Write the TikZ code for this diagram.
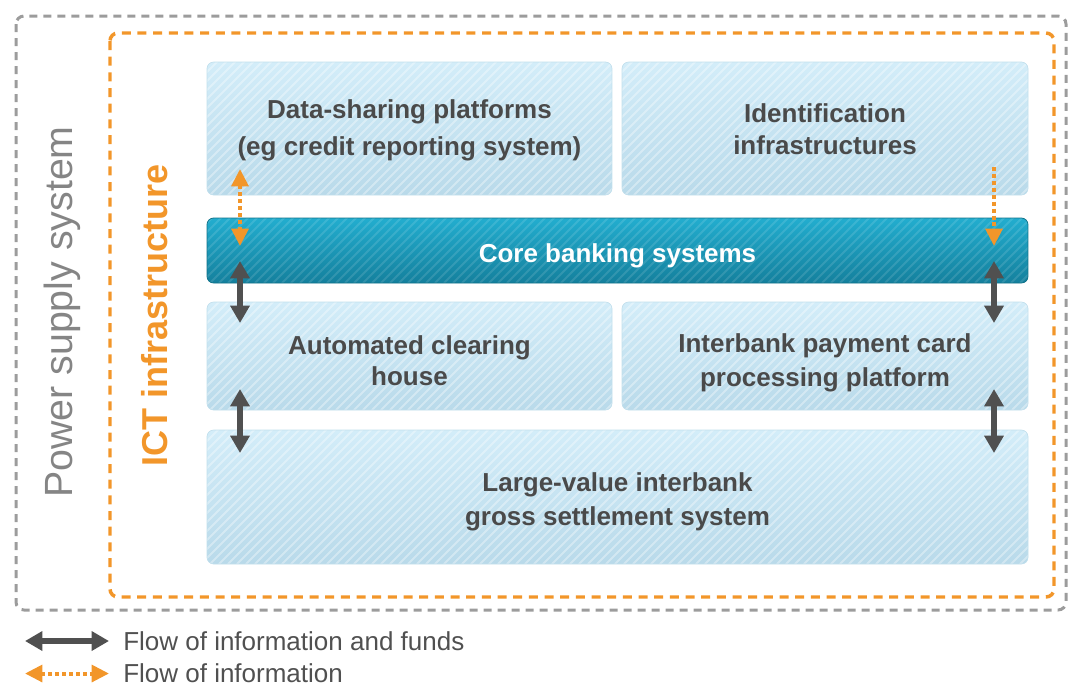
\documentclass[tikz,border=0pt]{standalone}
\usepackage{fontspec}
\setmainfont{Liberation Sans}
\usetikzlibrary{arrows.meta,calc}
\definecolor{txt}{HTML}{4A4A4A}
\definecolor{lt}{HTML}{D3EDF9}
\definecolor{lb}{HTML}{B9DAEA}
\definecolor{lbd}{HTML}{C2DFEC}
\definecolor{ct}{HTML}{22ADCF}
\definecolor{cb}{HTML}{14809D}
\definecolor{cbd}{HTML}{107289}
\definecolor{dkarrow}{HTML}{505050}
\definecolor{orng}{HTML}{F2962A}
\definecolor{gdash}{HTML}{9C9C9C}
\definecolor{gtext}{HTML}{858585}
\definecolor{legtext}{HTML}{505050}
\newcommand\mystripes[2]{\foreach \k in {-150,-141,...,830}{\draw[#1,opacity=#2,line width=1.5pt] ($(path picture bounding box.south west)+(\k,0)$) -- ++(170,-170);}}
\tikzset{infotip/.tip={Triangle[width=12.5pt,length=13pt]},
         fundtip/.tip={Triangle[width=14pt,length=13pt]}}
\begin{document}
\begin{tikzpicture}[x=0.75pt,y=-0.75pt,
  lbox/.style={rounded corners=5pt, top color=lt, bottom color=lb, draw=lbd, line width=0.5pt,
    inner sep=0pt, path picture={\mystripes{white}{0.35}}},
  cbox/.style={rounded corners=5pt, top color=ct, bottom color=cb, draw=cbd, line width=0.6pt,
    inner sep=0pt, path picture={\mystripes{white}{0.12}}},
  btext/.style={anchor=base, inner sep=0pt, text=txt, font=\bfseries\fontsize{19.5}{25}\selectfont},
  fund/.style={draw=dkarrow, line width=4pt, fundtip-fundtip},
  info/.style={draw=orng, line width=3pt, dash pattern=on 3pt off 2.2pt},
  leg/.style={anchor=base west, text=legtext, font=\fontsize{19.5}{23}\selectfont, inner sep=0pt}
]
\useasboundingbox (0,0) rectangle (1074,687);

% frames
\draw[gdash, line width=2.25pt, dash pattern=on 6pt off 4.5pt, rounded corners=6pt] (16,16) rectangle (1066,610);
\draw[orng, line width=2.6pt, dash pattern=on 6.75pt off 5pt, rounded corners=6pt] (110,33) rectangle (1054,597);

\node[rotate=90, text=gtext, font=\fontsize{29.5}{34}\selectfont, inner sep=0pt] (power) at (62,312) {Power supply system};
\node[rotate=90, text=orng, font=\bfseries\fontsize{27}{32}\selectfont, inner sep=0pt] (ict) at (155,315) {ICT infrastructure};

% boxes
\node[lbox, minimum width=303.75pt, minimum height=99.75pt] (ds) at (409.5,128.5) {};
\node[lbox, minimum width=304.5pt, minimum height=99.75pt] (id) at (825,128.5) {};
\node[cbox, minimum width=615.75pt, minimum height=48.75pt] (core) at (617.5,250.5) {};
\node[lbox, minimum width=303.75pt, minimum height=81pt] (ach) at (409.5,356) {};
\node[lbox, minimum width=304.5pt, minimum height=81pt] (card) at (825,356) {};
\node[lbox, minimum width=615.75pt, minimum height=100.5pt] (lv) at (617.5,497) {};

% box texts
\node[btext] (ds1) at (409.5,118.3) {Data-sharing platforms};
\node[btext] (ds2) at (409.5,155) {(eg credit reporting system)};
\node[btext] (id1) at (825,122) {Identification};
\node[btext] (id2) at (825,154) {infrastructures};
\node[btext, text=white] (core1) at (617.5,262) {Core banking systems};
\node[btext] (ach1) at (409.5,354) {Automated clearing};
\node[btext] (ach2) at (409.5,385.7) {house};
\node[btext] (card1) at (825,352) {Interbank payment card};
\node[btext] (card2) at (825,386) {processing platform};
\node[btext] (lv1) at (617.5,491.7) {Large-value interbank};
\node[btext] (lv2) at (617.5,525) {gross settlement system};

% arrow end points
\coordinate (oL1) at (240,169);
\coordinate (oL2) at (240,246);
\coordinate (oR1) at (994,167);
\coordinate (oR2) at (994,246);
\coordinate (dL1) at (240,261);
\coordinate (dL2) at (240,323);
\coordinate (dR1) at (994,261);
\coordinate (dR2) at (994,323);
\coordinate (eL1) at (240,389);
\coordinate (eL2) at (240,453);
\coordinate (eR1) at (994,389);
\coordinate (eR2) at (994,453);

\draw[fund] (dL1) -- (dL2);
\draw[fund] (dR1) -- (dR2);
\draw[fund] (eL1) -- (eL2);
\draw[fund] (eR1) -- (eR2);
\draw[info, infotip-infotip] (oL1) -- (oL2);
\draw[info, -infotip] (oR1) -- (oR2);

% legend
\coordinate (l1a) at (25,641);
\coordinate (l1b) at (109,641);
\coordinate (l2a) at (25,673.5);
\coordinate (l2b) at (109,673.5);
\draw[fund] (l1a) -- (l1b);
\draw[info, infotip-infotip] (l2a) -- (l2b);
\node[leg] (leg1) at (123,650) {Flow of information and funds};
\node[leg] (leg2) at (123,682.5) {Flow of information};
\end{tikzpicture}
\end{document}
